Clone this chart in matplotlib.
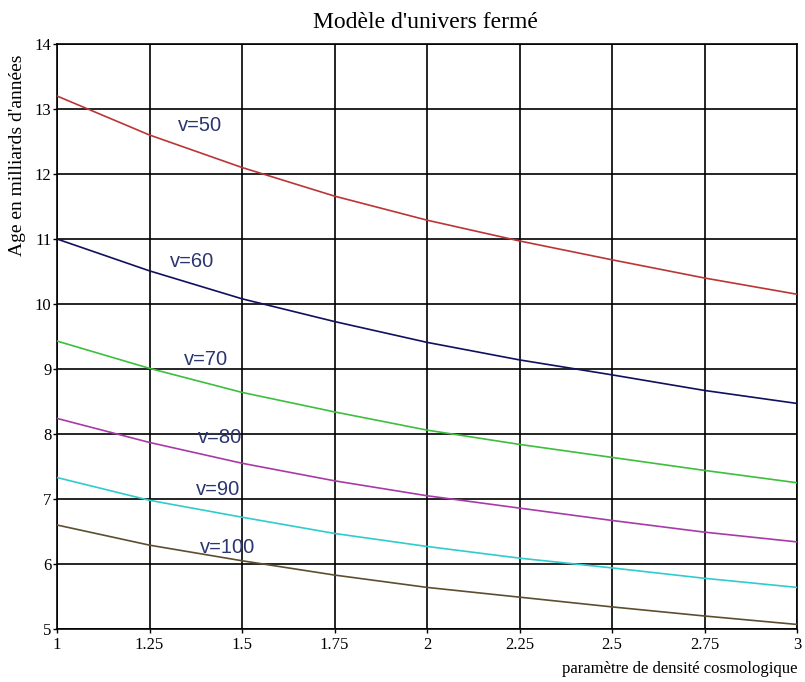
import matplotlib
matplotlib.use("Agg")
import matplotlib.pyplot as plt

# Density parameter (x) and ages in billions of years
omega = [1.0, 1.25, 1.5, 1.75, 2.0, 2.25, 2.5, 2.75, 3.0]
age_v50 = [13.20, 12.60, 12.10, 11.66, 11.29, 10.97, 10.68, 10.40, 10.15]
age_v60 = [11.00, 10.51, 10.08, 9.73, 9.41, 9.14, 8.91, 8.67, 8.47]
age_v70 = [9.43, 9.01, 8.64, 8.34, 8.06, 7.84, 7.64, 7.44, 7.25]
age_v80 = [8.24, 7.87, 7.55, 7.28, 7.05, 6.86, 6.67, 6.49, 6.34]
age_v90 = [7.33, 6.98, 6.72, 6.47, 6.27, 6.09, 5.94, 5.78, 5.64]
age_v100 = [6.60, 6.29, 6.05, 5.83, 5.64, 5.49, 5.34, 5.20, 5.07]

series_labels = ["v=50", "v=60", "v=70", "v=80", "v=90", "v=100"]
series_values = [age_v50, age_v60, age_v70, age_v80, age_v90, age_v100]
series_colors = ["#bb3535", "#10105e", "#3cbf3c", "#a83aa8", "#30cccc", "#5e4e30"]
label_pos = [(1.386, 12.74), (1.365, 10.65), (1.403, 9.14),
             (1.44, 7.94), (1.435, 7.15), (1.46, 6.26)]

xticks = [1, 1.25, 1.5, 1.75, 2, 2.25, 2.5, 2.75, 3]
xtick_labels = ["1", "1.25", "1.5", "1.75", "2", "2.25", "2.5", "2.75", "3"]
yticks = [5, 6, 7, 8, 9, 10, 11, 12, 13, 14]

fig = plt.figure(figsize=(8.05, 6.82), dpi=100)
ax = fig.add_axes([57 / 805, 1 - 629 / 682, (797 - 57) / 805, (629 - 44) / 682])

serif = ["Liberation Serif", "DejaVu Serif"]

for vals, col in zip(series_values, series_colors):
    ax.plot(omega, vals, color=col, lw=1.2, zorder=3)

for (lx, ly), txt in zip(label_pos, series_labels):
    ax.text(lx, ly, txt, ha="center", va="center", fontsize=14.5,
            family=["Liberation Sans", "DejaVu Sans"], color="#2b3570", zorder=4)

ax.set_xlim(1, 3)
ax.set_ylim(5, 14)
ax.set_xticks(xticks)
ax.set_xticklabels(xtick_labels)
ax.set_yticks(yticks)
ax.grid(True, color="black", lw=1.2, zorder=1)
for sp in ax.spines.values():
    sp.set_color("black")
    sp.set_linewidth(1.2)
ax.tick_params(direction="out", length=3, width=1, colors="black",
               labelsize=12, pad=1)
ax.tick_params(axis="x", pad=3)
for lab in ax.get_xticklabels() + ax.get_yticklabels():
    lab.set_family(serif)

fig.text(425 / 805, 1 - 22 / 682, "Modèle d'univers fermé", ha="center",
         va="center", fontsize=17, family=serif)
fig.text(797 / 805, 1 - 669 / 682, "paramètre de densité cosmologique",
         ha="right", va="center", fontsize=12, family=serif)
fig.text(18 / 805, 1 - 155 / 682, "Age en milliards d'années", ha="center",
         va="center", rotation=90, fontsize=14, family=serif)

fig.savefig("out.png", dpi=100)
